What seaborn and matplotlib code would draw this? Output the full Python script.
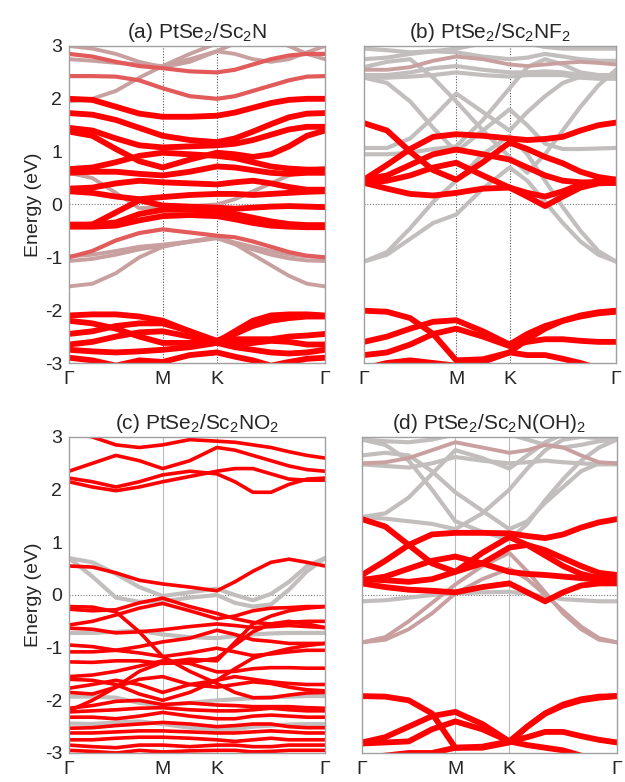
import matplotlib
matplotlib.use("Agg")
import matplotlib.pyplot as plt
import pandas as pd
import seaborn as sns

sns.set_theme(style="white")
plt.rcParams["font.family"] = ["Liberation Sans", "DejaVu Sans"]
plt.rcParams["mathtext.fontset"] = "custom"
plt.rcParams["mathtext.rm"] = "Liberation Sans"
plt.rcParams["mathtext.it"] = "Liberation Sans:italic"

# high-symmetry path Γ-M-K-Γ (reciprocal-space distances)
k_labels = ["Γ", "M", "K", "Γ"]
k_ticks = [0.0, 0.577, 0.911, 1.577]
k_path = [0.0, 0.144, 0.289, 0.433, 0.577, 0.744, 0.911,
          1.022, 1.133, 1.244, 1.355, 1.466, 1.577]
e_ticks = [-3, -2, -1, 0, 1, 2, 3]

titles = [r"(a) PtSe$_2$/Sc$_2$N", r"(b) PtSe$_2$/Sc$_2$NF$_2$",
          r"(c) PtSe$_2$/Sc$_2$NO$_2$", r"(d) PtSe$_2$/Sc$_2$N(OH)$_2$"]

# ---- (a) PtSe2/Sc2N : band energies (eV) along k_path ----
a_red = [
    [2.00, 1.98, 1.85, 1.72, 1.66, 1.66, 1.68, 1.74, 1.83, 1.92, 1.98, 2.00, 2.00],
    [1.73, 1.70, 1.60, 1.45, 1.30, 1.22, 1.18, 1.25, 1.38, 1.52, 1.65, 1.72, 1.73],
    [1.45, 1.40, 1.25, 1.12, 1.08, 1.10, 1.12, 1.15, 1.22, 1.32, 1.42, 1.47, 1.47],
    [1.38, 1.30, 1.05, 0.82, 0.70, 0.85, 0.98, 0.95, 0.90, 0.95, 1.10, 1.30, 1.40],
    [0.67, 0.70, 0.80, 0.92, 0.98, 0.95, 0.92, 0.88, 0.80, 0.72, 0.68, 0.66, 0.66],
    [0.60, 0.62, 0.62, 0.58, 0.55, 0.62, 0.72, 0.70, 0.65, 0.60, 0.58, 0.60, 0.60],
    [0.30, 0.32, 0.40, 0.45, 0.42, 0.40, 0.38, 0.42, 0.45, 0.40, 0.33, 0.28, 0.28],
    [0.25, 0.22, 0.15, 0.10, 0.14, 0.18, 0.20, 0.20, 0.18, 0.20, 0.22, 0.24, 0.25],
    [-0.40, -0.38, -0.15, 0.08, -0.02, -0.04, -0.06, -0.08, -0.06, -0.04, -0.03, -0.04, -0.05],
    [-0.38, -0.38, -0.34, -0.18, -0.10, -0.10, -0.12, -0.18, -0.25, -0.32, -0.37, -0.39, -0.39],
    [-0.42, -0.42, -0.40, -0.30, -0.22, -0.20, -0.22, -0.28, -0.35, -0.40, -0.42, -0.43, -0.43],
    [-2.10, -2.08, -2.08, -2.12, -2.20, -2.40, -2.60, -2.40, -2.20, -2.10, -2.08, -2.08, -2.10],
    [-2.45, -2.40, -2.30, -2.25, -2.25, -2.40, -2.58, -2.45, -2.30, -2.20, -2.15, -2.12, -2.12],
    [-2.20, -2.25, -2.35, -2.50, -2.62, -2.62, -2.58, -2.55, -2.55, -2.55, -2.50, -2.48, -2.45],
    [-2.65, -2.60, -2.50, -2.42, -2.40, -2.50, -2.60, -2.65, -2.62, -2.58, -2.60, -2.65, -2.65],
    [-2.75, -2.78, -2.80, -2.78, -2.75, -2.70, -2.62, -2.70, -2.75, -2.80, -2.82, -2.80, -2.75],
    [-2.90, -2.95, -3.05, -2.95, -2.98, -2.85, -2.80, -2.88, -2.95, -3.05, -2.98, -2.92, -2.90],
]
a_rose = [
    [2.85, 2.80, 2.70, 2.62, 2.58, 2.52, 2.50, 2.55, 2.65, 2.75, 2.82, 2.85, 2.85],
    [2.43, 2.43, 2.42, 2.35, 2.20, 2.05, 2.00, 2.05, 2.15, 2.25, 2.35, 2.42, 2.43],
    [-1.00, -0.88, -0.68, -0.54, -0.47, -0.53, -0.59, -0.62, -0.70, -0.80, -0.90, -0.97, -1.00],
]
a_pink = [
    [3.00, 2.95, 2.85, 2.70, 2.60, 2.70, 2.90, 2.85, 2.75, 2.70, 2.75, 2.88, 3.00],
    [2.75, 2.72, 2.68, 2.65, 2.62, 2.75, 2.90, 3.05, 3.10, 3.10, 3.00, 2.85, 2.75],
    [1.95, 2.00, 2.15, 2.40, 2.62, 2.85, 3.05, 3.10, 3.10, 3.10, 3.10, 3.10, 3.10],
    [0.60, 0.50, 0.22, -0.07, -0.05, -0.03, 0.00, 0.10, 0.25, 0.40, 0.55, 0.65, 0.70],
    [-0.98, -0.95, -0.88, -0.80, -0.76, -0.70, -0.62, -0.72, -0.80, -0.88, -0.95, -0.98, -1.00],
    [-1.07, -1.03, -0.95, -0.85, -0.78, -0.71, -0.64, -0.75, -0.85, -0.95, -1.02, -1.06, -1.07],
    [-1.55, -1.50, -1.30, -1.00, -0.80, -0.70, -0.62, -0.75, -0.95, -1.15, -1.35, -1.50, -1.55],
]
a_gray = []

# ---- (b) PtSe2/Sc2NF2 ----
b_red = [
    [0.47, 0.75, 1.05, 1.28, 1.33, 1.30, 1.25, 1.22, 1.24, 1.28, 1.40, 1.50, 1.55],
    [1.54, 1.40, 1.00, 0.65, 0.47, 0.80, 1.17, 1.05, 0.90, 0.78, 0.62, 0.52, 0.47],
    [0.47, 0.55, 0.75, 0.95, 1.04, 0.95, 0.85, 0.70, 0.55, 0.45, 0.42, 0.42, 0.41],
    [0.41, 0.45, 0.55, 0.70, 0.79, 0.55, 0.32, 0.22, 0.15, 0.25, 0.38, 0.44, 0.47],
    [0.41, 0.30, 0.20, 0.17, 0.22, 0.30, 0.32, 0.15, -0.03, 0.15, 0.32, 0.40, 0.41],
    [-2.01, -2.03, -2.15, -2.45, -2.95, -2.93, -2.80, -2.55, -2.35, -2.20, -2.10, -2.04, -2.01],
    [-2.60, -2.50, -2.35, -2.22, -2.19, -2.40, -2.65, -2.45, -2.30, -2.20, -2.12, -2.06, -2.03],
    [-2.85, -2.80, -2.65, -2.45, -2.35, -2.50, -2.68, -2.60, -2.55, -2.55, -2.58, -2.60, -2.60],
    [-3.10, -3.00, -2.95, -3.00, -3.05, -2.98, -2.80, -2.85, -2.85, -2.92, -3.00, -3.10, -3.10],
]
b_rose = []
b_pink = [
    [2.55, 2.55, 2.60, 2.72, 2.80, 2.75, 2.65, 2.62, 2.65, 2.68, 2.70, 2.68, 2.65],
]
b_gray = [
    [2.95, 2.92, 2.88, 2.90, 2.95, 3.05, 3.10, 3.05, 2.98, 2.95, 2.95, 2.95, 2.95],
    [2.75, 2.78, 2.85, 2.90, 2.88, 2.80, 2.75, 2.78, 2.85, 2.80, 2.75, 2.72, 2.72],
    [2.45, 2.45, 2.50, 2.58, 2.62, 2.55, 2.50, 2.50, 2.52, 2.50, 2.45, 2.42, 2.42],
    [2.40, 2.40, 2.42, 2.45, 2.50, 2.45, 2.42, 2.45, 2.45, 2.45, 2.40, 2.38, 2.38],
    [2.40, 2.30, 1.95, 1.45, 1.00, 1.40, 1.80, 1.50, 1.15, 1.05, 1.05, 1.06, 1.07],
    [1.07, 1.07, 1.25, 1.65, 2.10, 1.75, 1.40, 1.75, 2.05, 2.30, 2.42, 2.45, 2.45],
    [2.60, 2.70, 2.75, 2.40, 1.95, 1.40, 0.90, 0.60, 0.95, 1.40, 1.85, 2.25, 2.55],
    [0.95, 0.95, 0.98, 1.05, 1.10, 1.60, 2.20, 2.60, 2.75, 2.65, 2.50, 2.45, 2.40],
    [-1.08, -0.95, -0.65, -0.35, -0.19, 0.30, 0.70, 0.45, 0.05, -0.35, -0.70, -0.95, -1.08],
    [-1.08, -0.90, -0.45, 0.05, 0.45, 0.95, 1.30, 0.95, 0.45, -0.05, -0.50, -0.88, -1.08],
]

# ---- (c) PtSe2/Sc2NO2 ----
c_red = [
    [2.35, 2.50, 2.65, 2.55, 2.40, 2.55, 2.80, 2.75, 2.65, 2.55, 2.45, 2.38, 2.35],
    [2.22, 2.15, 2.05, 2.15, 2.28, 2.35, 2.30, 2.15, 1.95, 1.95, 2.10, 2.20, 2.22],
    [2.15, 2.05, 1.98, 2.05, 2.15, 2.25, 2.35, 2.40, 2.40, 2.30, 2.20, 2.18, 2.18],
    [3.10, 3.00, 2.85, 2.80, 2.85, 2.95, 2.92, 2.90, 2.85, 2.80, 2.72, 2.65, 2.60],
    [0.55, 0.53, 0.42, 0.28, 0.21, 0.15, 0.08, 0.25, 0.45, 0.62, 0.68, 0.62, 0.55],
    [-0.22, -0.23, -0.32, -0.70, -1.17, -1.45, -1.68, -1.85, -1.95, -1.95, -1.90, -1.86, -1.85],
    [-0.27, -0.30, -0.28, -0.15, -0.06, -0.22, -0.35, -0.45, -0.52, -0.55, -0.52, -0.50, -0.50],
    [-0.57, -0.50, -0.38, -0.25, -0.16, -0.30, -0.45, -0.40, -0.30, -0.25, -0.24, -0.22, -0.22],
    [-0.63, -0.65, -0.72, -0.70, -0.66, -0.60, -0.55, -0.58, -0.62, -0.60, -0.58, -0.60, -0.62],
    [-0.95, -0.98, -1.05, -0.98, -0.89, -0.82, -0.67, -0.75, -0.85, -0.88, -0.92, -0.92, -0.92],
    [-1.08, -1.08, -1.05, -1.10, -1.17, -1.10, -1.01, -1.08, -1.15, -1.12, -1.08, -1.05, -1.05],
    [-1.27, -1.28, -1.25, -1.25, -1.30, -1.28, -1.20, -0.95, -0.70, -0.55, -0.50, -0.55, -0.62],
    [-1.55, -1.52, -1.45, -1.35, -1.25, -1.30, -1.46, -1.45, -1.40, -1.38, -1.38, -1.39, -1.39],
    [-1.77, -1.70, -1.62, -1.70, -1.85, -1.70, -1.62, -1.55, -1.60, -1.65, -1.68, -1.70, -1.70],
    [-1.85, -1.88, -1.75, -1.60, -1.55, -1.70, -1.75, -1.70, -1.65, -1.68, -1.75, -1.80, -1.82],
    [-1.60, -1.62, -1.70, -1.88, -2.00, -1.85, -1.62, -1.40, -1.20, -1.10, -1.02, -0.96, -0.92],
    [-2.15, -2.10, -2.02, -2.00, -2.08, -2.05, -2.09, -2.10, -2.12, -2.12, -2.12, -2.14, -2.15],
    [-2.22, -2.20, -2.18, -2.15, -2.14, -2.18, -2.20, -2.20, -2.18, -2.15, -2.18, -2.20, -2.20],
    [-2.32, -2.32, -2.35, -2.30, -2.23, -2.30, -2.35, -2.35, -2.30, -2.28, -2.30, -2.32, -2.32],
    [-2.53, -2.52, -2.48, -2.45, -2.42, -2.45, -2.50, -2.48, -2.45, -2.45, -2.50, -2.52, -2.52],
    [-2.62, -2.62, -2.60, -2.58, -2.58, -2.60, -2.62, -2.62, -2.60, -2.58, -2.60, -2.62, -2.62],
    [-2.75, -2.75, -2.72, -2.70, -2.70, -2.72, -2.75, -2.78, -2.75, -2.72, -2.75, -2.75, -2.75],
    [-2.85, -2.88, -2.90, -2.85, -2.85, -2.88, -2.85, -2.85, -2.88, -2.88, -2.85, -2.85, -2.85],
    [-2.95, -2.97, -3.00, -2.95, -2.98, -2.96, -2.95, -2.95, -2.98, -2.97, -2.95, -2.95, -2.95],
    [-2.20, -2.00, -1.75, -1.45, -1.28, -1.22, -1.25, -0.90, -0.55, -0.40, -0.30, -0.25, -0.22],
]
c_rose = []
c_pink = []
c_gray = [
    [0.70, 0.35, -0.05, -0.13, -0.12, -0.05, 0.00, -0.15, -0.22, -0.18, 0.10, 0.45, 0.70],
    [0.70, 0.62, 0.40, 0.15, -0.02, 0.05, 0.12, 0.00, -0.10, 0.02, 0.25, 0.55, 0.70],
    [-0.72, -0.72, -0.70, -0.68, -0.75, -0.80, -0.82, -0.78, -0.75, -0.73, -0.72, -0.72, -0.72],
    [-1.93, -1.93, -1.95, -2.05, -2.10, -2.05, -2.00, -1.98, -1.96, -1.94, -1.93, -1.92, -1.92],
    [-2.44, -2.45, -2.42, -2.40, -2.45, -2.52, -2.55, -2.55, -2.50, -2.48, -2.46, -2.45, -2.45],
]

# ---- (d) PtSe2/Sc2N(OH)2 ----
d_red = [
    [0.38, 0.65, 0.95, 1.15, 1.18, 1.18, 1.17, 1.12, 1.08, 1.15, 1.28, 1.38, 1.44],
    [1.44, 1.30, 0.95, 0.60, 0.44, 0.60, 0.90, 0.95, 0.85, 0.70, 0.55, 0.42, 0.38],
    [0.28, 0.35, 0.50, 0.65, 0.73, 0.60, 0.44, 0.40, 0.38, 0.35, 0.32, 0.29, 0.28],
    [0.22, 0.15, 0.10, 0.08, 0.05, 0.15, 0.22, 0.05, -0.12, 0.05, 0.18, 0.22, 0.22],
    [0.30, 0.28, 0.25, 0.30, 0.44, 0.80, 1.10, 0.95, 0.75, 0.55, 0.40, 0.32, 0.28],
    [-1.92, -1.93, -2.00, -2.25, -2.90, -2.90, -2.80, -2.50, -2.25, -2.08, -1.98, -1.93, -1.92],
    [-2.80, -2.70, -2.50, -2.30, -2.22, -2.45, -2.78, -2.50, -2.25, -2.10, -2.00, -1.95, -1.92],
    [-2.82, -2.80, -2.78, -2.55, -2.40, -2.55, -2.78, -2.70, -2.60, -2.60, -2.68, -2.75, -2.80],
    [-3.10, -3.05, -3.00, -3.00, -2.90, -2.88, -2.78, -2.85, -2.90, -2.95, -3.05, -3.10, -3.10],
]
d_rose = []
d_pink = [
    [2.50, 2.52, 2.60, 2.75, 2.90, 2.80, 2.70, 2.75, 2.85, 2.80, 2.65, 2.52, 2.50],
    [-0.90, -0.85, -0.65, -0.35, 0.03, 0.30, 0.50, 0.30, 0.00, -0.30, -0.60, -0.82, -0.90],
    [-0.90, -0.80, -0.50, -0.15, 0.20, 0.55, 0.80, 0.45, 0.05, -0.35, -0.65, -0.85, -0.90],
]
d_gray = [
    [2.95, 2.92, 2.90, 2.95, 3.05, 3.10, 3.05, 2.95, 2.85, 2.80, 2.85, 2.92, 2.95],
    [2.48, 2.45, 2.42, 2.50, 2.62, 2.55, 2.50, 2.52, 2.55, 2.52, 2.50, 2.48, 2.48],
    [1.48, 1.55, 1.85, 2.30, 2.75, 2.60, 2.40, 2.65, 2.90, 3.05, 3.10, 3.10, 3.10],
    [2.95, 2.85, 2.55, 2.00, 1.40, 1.20, 1.05, 1.35, 1.80, 2.20, 2.55, 2.80, 2.95],
    [2.65, 2.70, 2.65, 2.35, 1.95, 1.60, 1.25, 1.40, 1.75, 2.05, 2.35, 2.50, 2.50],
    [1.48, 1.45, 1.40, 1.35, 1.25, 1.55, 2.00, 2.40, 2.75, 2.95, 3.00, 2.98, 2.95],
    [-0.12, -0.10, -0.05, 0.00, 0.03, 0.05, 0.06, 0.02, -0.03, -0.08, -0.10, -0.12, -0.12],
]

panels = [
    dict(red=a_red, rose=a_rose, pink=a_pink, gray=a_gray),
    dict(red=b_red, rose=b_rose, pink=b_pink, gray=b_gray),
    dict(red=c_red, rose=c_rose, pink=c_pink, gray=c_gray),
    dict(red=d_red, rose=d_rose, pink=d_pink, gray=d_gray),
]

colors = {"gray": "#c2bebe", "pink": "#c9a0a0", "rose": "#e25a5a", "red": "#ff0000"}
red_width = [4.2, 4.2, 2.6, 4.2]
other_width = {"gray": 3.0, "pink": 2.8, "rose": 3.0}

# axes rectangles in figure fractions
rects = [
    [0.1104, 0.5358, 0.4096, 0.4054],
    [0.5824, 0.5358, 0.4032, 0.4054],
    [0.1104, 0.0371, 0.4096, 0.4041],
    [0.5792, 0.0371, 0.4080, 0.4041],
]

fig = plt.figure(figsize=(6.25, 7.82), dpi=100)
fig.patch.set_facecolor("white")

for i, (rect, bands, title) in enumerate(zip(rects, panels, titles)):
    ax = fig.add_axes(rect)
    ax.set_facecolor("white")
    rows = []
    for kind, blist in bands.items():
        for j, band in enumerate(blist):
            for k, e in zip(k_path, band):
                rows.append((kind, f"{kind}{j}", k, e))
    df = pd.DataFrame(rows, columns=["kind", "band", "k", "E"])
    for kind in ["gray", "pink", "rose", "red"]:
        sub = df[df["kind"] == kind]
        if sub.empty:
            continue
        lw = red_width[i] if kind == "red" else other_width[kind]
        sns.lineplot(data=sub, x="k", y="E", units="band", estimator=None,
                     sort=False, color=colors[kind], lw=lw, ax=ax, legend=False,
                     solid_capstyle="round", solid_joinstyle="round")

    # Fermi level and high-symmetry markers
    ax.axhline(0, color="#777777", ls=(0, (1, 1.5)), lw=0.8, zorder=0)
    for kx in k_ticks[1:3]:
        if i < 2:
            ax.axvline(kx, color="#555555", ls=(0, (1, 1.5)), lw=0.8, zorder=0)
        else:
            ax.axvline(kx, color="#bbbbbb", ls="-", lw=0.8, zorder=0)

    ax.set_xlim(k_ticks[0], k_ticks[-1])
    ax.set_ylim(-3, 3)
    ax.set_xticks(k_ticks)
    ax.set_xticklabels(k_labels, fontsize=14)
    ax.set_yticks(e_ticks)
    if i % 2 == 0:
        ax.set_yticklabels([str(t) for t in e_ticks], fontsize=14)
        ax.set_ylabel("Energy (eV)", fontsize=14, labelpad=2)
    else:
        ax.set_yticklabels([])
        ax.set_ylabel("")
    ax.set_xlabel("")
    ax.tick_params(axis="x", length=0, pad=6)
    ax.tick_params(axis="y", length=3, width=0.8, color="#888888", direction="out", pad=2)
    for s in ax.spines.values():
        s.set_color("#a0a0a0")
        s.set_linewidth(1.0)
    ax.set_title(title, fontsize=15, pad=6)

fig.savefig("out.png", dpi=100, facecolor="white")
